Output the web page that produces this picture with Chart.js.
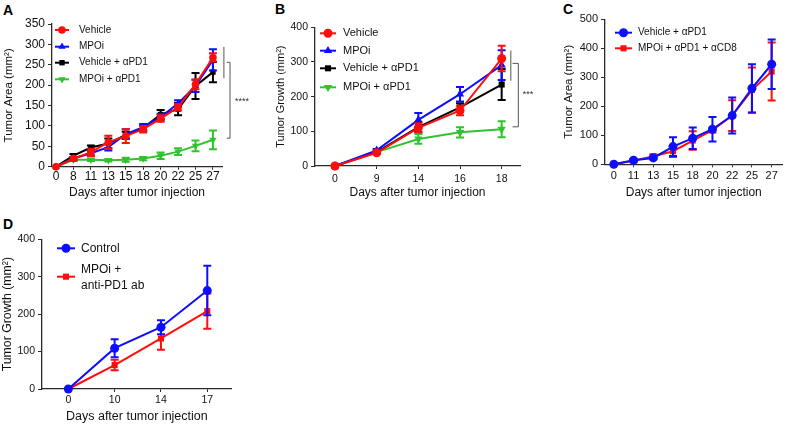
<!DOCTYPE html>
<html>
<head>
<meta charset="utf-8">
<script src="https://cdn.jsdelivr.net/npm/chart.js@4.4.0/dist/chart.umd.min.js"></script>
<style>
  body { margin: 0; background: #fff; width: 787px; height: 425px; position: relative; overflow: hidden;
         font-family: "Liberation Sans", Arial, sans-serif; }
  canvas { position: absolute; }
  .panel { position: absolute; font-weight: bold; font-size: 14px; line-height: 14px; color: #000; }
</style>
</head>
<body>
<div class="panel" style="left:3px;top:3px">A</div>
<div class="panel" style="left:275px;top:2px">B</div>
<div class="panel" style="left:563px;top:2px">C</div>
<div class="panel" style="left:3px;top:217px">D</div>
<canvas id="chartA" width="260" height="205" style="left:0;top:0"></canvas>
<canvas id="chartB" width="280" height="205" style="left:260px;top:0"></canvas>
<canvas id="chartC" width="247" height="205" style="left:540px;top:0"></canvas>
<canvas id="chartD" width="260" height="210" style="left:0;top:215px"></canvas>
<script>
// ---- data ----

// A: tumor area
const daysA = ['0', '8', '11', '13', '15', '18', '20', '22', '25', '27'];
const vehicleA = [0, 20, 35, 60, 75, 92, 118, 146, 202, 268];
const vehicleAErr = [0, 4, 9, 16, 17, 8, 8, 8, 12, 10];
const mpoiA = [0, 20, 33, 48, 80, 97, 122, 155, 198, 262];
const mpoiAErr = [0, 4, 5, 8, 12, 8, 8, 8, 15, 26];
const pd1A = [0, 27, 47, 57, 78, 95, 128, 141, 198, 232];
const pd1AErr = [0, 4, 5, 12, 8, 6, 11, 15, 32, 25];
const comboA = [0, 17, 17, 16, 17, 20, 27, 37, 51, 66];
const comboAErr = [0, 3, 3, 3, 5, 4, 8, 8, 13, 23];

// B: tumor growth
const daysB = ['0', '9', '14', '16', '18'];
const vehicleB = [0, 38, 110, 160, 310];
const vehicleBErr = [0, 3, 13, 14, 37];
const mpoiB = [0, 45, 133, 207, 291];
const mpoiBErr = [0, 4, 20, 21, 43];
const pd1B = [0, 40, 112, 169, 235];
const pd1BErr = [0, 3, 14, 12, 45];
const comboB = [0, 40, 78, 97, 106];
const comboBErr = [0, 3, 14, 15, 23];

// C: CD8 depletion
const daysC = ['0', '11', '13', '15', '18', '20', '22', '25', '27'];
const pd1C = [0, 14, 22, 61, 90, 121, 168, 262, 345];
const pd1CErr = [0, 4, 5, 32, 37, 42, 62, 83, 85];
const cd8C = [0, 12, 28, 45, 82, 118, 168, 256, 320];
const cd8CErr = [0, 3, 6, 20, 32, 8, 53, 78, 100];

// D: second model
const daysD = ['0', '10', '14', '17'];
const controlD = [0, 109, 165, 263];
const controlDErr = [0, 24, 19, 66];
const comboD = [0, 64, 135, 208];
const comboDErr = [0, 14, 30, 47];

const RED = '#ff0d0d';
const BLUE = '#0d0dff';
const BLACK = '#000000';
const GREEN = '#2fc42f';
const AXIS = '#2a2a2a';
const TEXT = '#111111';

Chart.defaults.font.family = '"Liberation Sans", Arial, sans-serif';
Chart.defaults.color = TEXT;

// error bars drawn right after each dataset so stacking follows the datasets
const errorBars = {
  id: 'errorBars',
  afterDatasetDraw(chart, args) {
    const ds = chart.data.datasets[args.index];
    if (!ds.errors) return;
    const y = chart.scales.y;
    const ctx = chart.ctx;
    ctx.save();
    ctx.strokeStyle = ds.borderColor;
    ctx.lineWidth = 2;
    args.meta.data.forEach((pt, i) => {
      const e = ds.errors[i];
      if (!e) return;
      const v = ds.data[i].y;
      const top = y.getPixelForValue(v + e);
      const bot = y.getPixelForValue(v - e);
      const cap = 4;
      ctx.beginPath();
      ctx.moveTo(pt.x, top); ctx.lineTo(pt.x, bot);
      ctx.moveTo(pt.x - cap, top); ctx.lineTo(pt.x + cap, top);
      ctx.moveTo(pt.x - cap, bot); ctx.lineTo(pt.x + cap, bot);
      ctx.stroke();
    });
    ctx.restore();
  }
};

// legend drawn inside the plot like the prism export
const panelLegend = {
  id: 'panelLegend',
  afterDraw(chart, args, opts) {
    if (!opts.items) return;
    const ctx = chart.ctx;
    ctx.save();
    opts.items.forEach((it) => {
      const ds = chart.data.datasets[it.index];
      ctx.strokeStyle = ds.borderColor;
      ctx.fillStyle = ds.backgroundColor;
      ctx.lineWidth = 2;
      ctx.beginPath();
      ctx.moveTo(it.x, it.y);
      ctx.lineTo(it.x + opts.lineLen, it.y);
      ctx.stroke();
      Chart.helpers.drawPoint(ctx, {
        pointStyle: ds.pointStyle,
        rotation: ds.pointRotation || 0,
        radius: ds.pointRadius,
        borderWidth: 0
      }, it.x + opts.lineLen / 2, it.y);
      ctx.fillStyle = TEXT;
      ctx.font = opts.fontSize + 'px "Liberation Sans", Arial, sans-serif';
      ctx.textBaseline = 'middle';
      ctx.textAlign = 'left';
      const lines = [].concat(it.text);
      const tx = it.x + opts.lineLen + opts.gap;
      if (lines.length === 1) {
        ctx.fillText(lines[0], tx, it.y);
      } else {
        lines.forEach((t, k) => ctx.fillText(t, tx, it.textY[k]));
      }
    });
    ctx.restore();
  }
};

// significance brackets, given in data units
const sigMarks = {
  id: 'sigMarks',
  afterDraw(chart, args, opts) {
    if (!opts.paths) return;
    const { x, y } = chart.scales;
    const ctx = chart.ctx;
    ctx.save();
    ctx.strokeStyle = '#555';
    ctx.lineWidth = 1;
    opts.paths.forEach((p) => {
      ctx.beginPath();
      p.forEach(([px, py], k) => {
        const X = x.getPixelForValue(px), Y = y.getPixelForValue(py);
        if (k === 0) ctx.moveTo(X, Y); else ctx.lineTo(X, Y);
      });
      ctx.stroke();
    });
    ctx.fillStyle = '#333';
    ctx.font = '9px "Liberation Sans", Arial, sans-serif';
    ctx.textAlign = 'center';
    ctx.textBaseline = 'middle';
    ctx.fillText(opts.text, x.getPixelForValue(opts.at[0]), y.getPixelForValue(opts.at[1]));
    ctx.restore();
  }
};

function series(label, values, errors, color, shape, rotation, radius) {
  return {
    label,
    data: values.map((v, i) => ({ x: i, y: v })),
    errors,
    borderColor: color,
    backgroundColor: color,
    borderWidth: 2,
    pointStyle: shape,
    pointRotation: rotation,
    pointRadius: radius,
    pointBorderWidth: 0,
    tension: 0,
    clip: false
  };
}

function makePanel(id, p) {
  const ctx = document.getElementById(id);
  new Chart(ctx, {
    type: 'line',
    data: { datasets: p.datasets },
    plugins: [errorBars, panelLegend, sigMarks],
    options: {
      responsive: false,
      animation: false,
      devicePixelRatio: 1,
      layout: { padding: p.padding },
      plugins: {
        legend: { display: false },
        tooltip: { enabled: false },
        panelLegend: p.legend,
        sigMarks: p.sig || {}
      },
      scales: {
        x: {
          type: 'linear',
          min: p.xMin,
          max: p.xMax,
          afterBuildTicks: (s) => { s.ticks = p.labels.map((_, i) => ({ value: i })); },
          afterFit: (s) => { s.height = p.xHeight; },
          ticks: {
            autoSkip: false, maxRotation: 0,
            callback: (v) => p.labels[v],
            font: { size: p.tickFont }, padding: p.xTickPad, color: TEXT
          },
          grid: { display: true, drawOnChartArea: false, drawTicks: true, tickLength: 3, color: AXIS },
          border: { color: AXIS, width: 1.3 },
          title: {
            display: true, text: 'Days after tumor injection', color: TEXT,
            font: { size: p.xTitleFont }, padding: { top: 0, bottom: p.xTitlePad }
          }
        },
        y: {
          min: 0,
          max: p.yMax,
          afterFit: (s) => { s.width = p.yWidth; },
          ticks: { stepSize: p.yStep, font: { size: p.tickFont }, padding: 3, color: TEXT },
          grid: { display: true, drawOnChartArea: false, drawTicks: true, tickLength: 4, color: AXIS },
          border: { color: AXIS, width: 1.3 },
          title: {
            display: true, text: p.yTitle, color: TEXT,
            font: { size: p.yTitleFont }, padding: { top: p.yTitlePad, bottom: 0 }
          }
        }
      }
    }
  });
}

makePanel('chartA', {
  labels: daysA,
  datasets: [
    series('Vehicle', vehicleA, vehicleAErr, RED, 'circle', 0, 3.8),
    series('MPOi', mpoiA, mpoiAErr, BLUE, 'triangle', 0, 4.2),
    series('Vehicle + αPD1', pd1A, pd1AErr, BLACK, 'rect', 0, 3.8),
    series('MPOi + αPD1', comboA, comboAErr, GREEN, 'triangle', 180, 4.2)
  ],
  padding: { left: 0, top: 24, right: 38, bottom: 0 },
  xMin: -0.23, xMax: 9.52, yMax: 350, yStep: 50,
  yWidth: 52, xHeight: 38.3,
  tickFont: 12, xTickPad: 0, xTitleFont: 12, xTitlePad: 4.8,
  yTitle: 'Tumor Area (mm²)', yTitleFont: 11.5, yTitlePad: 2.1,
  legend: {
    lineLen: 14, gap: 10, fontSize: 10,
    items: [
      { index: 0, x: 55, y: 30, text: 'Vehicle' },
      { index: 1, x: 55, y: 46.7, text: 'MPOi' },
      { index: 2, x: 55, y: 62.7, text: 'Vehicle + αPD1' },
      { index: 3, x: 55, y: 79.3, text: 'MPOi + αPD1' }
    ]
  },
  sig: {
    paths: [
      [[9.63, 294], [9.63, 217]],
      [[9.79, 256], [9.98, 256], [9.98, 70], [9.79, 70]]
    ],
    text: '****', at: [10.67, 161]
  }
});

makePanel('chartB', {
  labels: daysB,
  datasets: [
    series('Vehicle', vehicleB, vehicleBErr, RED, 'circle', 0, 4.5),
    series('MPOi', mpoiB, mpoiBErr, BLUE, 'triangle', 0, 4.8),
    series('Vehicle + αPD1', pd1B, pd1BErr, BLACK, 'rect', 0, 4.3),
    series('MPOi + αPD1', comboB, comboBErr, GREEN, 'triangle', 180, 4.8)
  ],
  padding: { left: 0, top: 27.3, right: 20, bottom: 0 },
  xMin: -0.48, xMax: 4.44, yMax: 400, yStep: 100,
  yWidth: 55, xHeight: 39,
  tickFont: 10.5, xTickPad: 4, xTitleFont: 12, xTitlePad: 5.1,
  yTitle: 'Tumor Growth (mm²)', yTitleFont: 11, yTitlePad: 14,
  legend: {
    lineLen: 16, gap: 7, fontSize: 11,
    items: [
      { index: 0, x: 60, y: 33.3, text: 'Vehicle' },
      { index: 1, x: 60, y: 50.7, text: 'MPOi' },
      { index: 2, x: 60, y: 68.3, text: 'Vehicle + αPD1' },
      { index: 3, x: 60, y: 87.3, text: 'MPOi + αPD1' }
    ]
  },
  sig: {
    paths: [
      [[4.22, 333], [4.22, 246]],
      [[4.26, 296], [4.40, 296], [4.40, 113], [4.26, 113]]
    ],
    text: '***', at: [4.63, 205]
  }
});

makePanel('chartC', {
  labels: daysC,
  datasets: [
    series('Vehicle + αPD1', pd1C, pd1CErr, BLUE, 'circle', 0, 4.5),
    series('MPOi + αPD1 + αCD8', cd8C, cd8CErr, RED, 'rect', 0, 4.3)
  ],
  padding: { left: 0, top: 19.3, right: 1, bottom: 0 },
  xMin: -0.447, xMax: 8.55, yMax: 500, yStep: 100,
  yWidth: 65, xHeight: 40.7,
  tickFont: 11, xTickPad: 2, xTitleFont: 12, xTitlePad: 4.8,
  yTitle: 'Tumor Area (mm²)', yTitleFont: 11.5, yTitlePad: 22,
  legend: {
    lineLen: 17, gap: 6, fontSize: 10,
    items: [
      { index: 0, x: 75, y: 32.7, text: 'Vehicle + αPD1' },
      { index: 1, x: 75, y: 48.3, text: 'MPOi + αPD1 + αCD8' }
    ]
  }
});

makePanel('chartD', {
  labels: daysD,
  datasets: [
    series('Control', controlD, controlDErr, BLUE, 'circle', 0, 4.5),
    series('MPOi + anti-PD1 ab', comboD, comboDErr, RED, 'rect', 0, 4.3)
  ],
  padding: { left: 0, top: 24.3, right: 28.3, bottom: 0 },
  xMin: -0.568, xMax: 3.527, yMax: 400, yStep: 100,
  yWidth: 42, xHeight: 36,
  tickFont: 10.5, xTickPad: 2, xTitleFont: 12.5, xTitlePad: 0.5,
  yTitle: 'Tumor Growth (mm²)', yTitleFont: 12.3, yTitlePad: 0.6,
  legend: {
    lineLen: 18, gap: 6, fontSize: 12,
    items: [
      { index: 0, x: 57, y: 33.3, text: 'Control' },
      { index: 1, x: 57, y: 61.7, text: ['MPOi +', 'anti-PD1 ab'], textY: [54.3, 70.7] }
    ]
  }
});
</script>
</body>
</html>
